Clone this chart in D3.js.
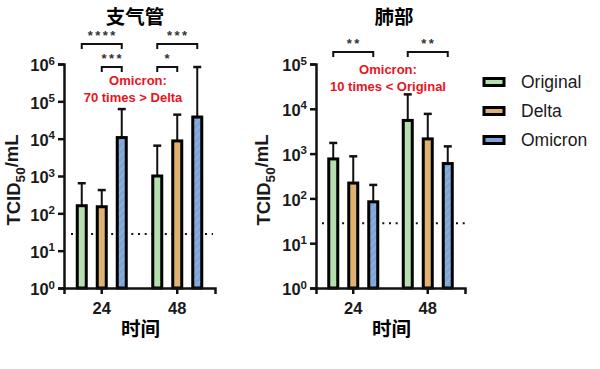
<!DOCTYPE html>
<html>
<head>
  <meta charset="utf-8">
  <script src="https://cdn.jsdelivr.net/npm/d3@7"></script>
  <style>
    body { margin: 0; background: #fff; }
    svg { display: block; font-family: "Liberation Sans", Arial, sans-serif; }
    .cjk { font-family: "Noto Sans CJK SC", sans-serif; font-weight: bold; }
    .axis path, .axis line { stroke: #111; stroke-width: 2.5px; }
    .axis text { font-weight: bold; fill: #1a1a1a; }
  </style>
</head>
<body>
<script>
  // data
  var times = ["24", "48"];
  var series = ["Original", "Delta", "Omicron"];
  var colors = ["#b5dfae", "#dfb273", "#7fa5d7"];

  // rows = time point, columns = series
  var bronchusMean = [[160, 150, 10700], [1000, 8700, 38000]];
  var bronchusUpper = [[640, 420, 62000], [6500, 44000, 830000]];
  var lungMean = [[760, 220, 84], [5500, 2130, 600]];
  var lungUpper = [[1730, 870, 200], [21000, 7700, 1450]];
  var detectionLimit = 28;

  var bronchusTicks = [1, 10, 100, 1e3, 1e4, 1e5, 1e6];
  var lungTicks = [1, 10, 100, 1e3, 1e4, 1e5];

  // [time, from series, to series, stars, level]
  var bronchusSig = [[0, 0, 2, "****", 0], [0, 1, 2, "***", 1], [1, 0, 2, "***", 0], [1, 0, 1, "*", 1]];
  var lungSig = [[0, 0, 2, "**", 0], [1, 0, 2, "**", 0]];

  var bronchusNote = ["Omicron:", "70 times > Delta"];
  var lungNote = ["Omicron:", "10 times < Original"];

  var svg = d3.select("body").append("svg")
    .attr("width", 600).attr("height", 369);

  var defs = svg.append("defs");
  var pat = defs.append("pattern").attr("id", "hatch")
    .attr("patternUnits", "userSpaceOnUse").attr("width", 5).attr("height", 5)
    .attr("patternTransform", "rotate(45)");
  pat.append("rect").attr("width", 5).attr("height", 5).attr("fill", colors[2]);
  pat.append("line").attr("x1", 0).attr("y1", 0).attr("x2", 0).attr("y2", 5)
    .attr("stroke", "#9bbbe4").attr("stroke-width", 1.5);

  var panels = [
    { title: "支气管", titleX: 135, x0: 64, x1: 215, ticks: bronchusTicks,
      mean: bronchusMean, upper: bronchusUpper, sig: bronchusSig,
      sigY: [44, 67], note: bronchusNote, noteX: [138, 133], noteY: [85, 102], labelX: 20, dotX: [71, 213] },
    { title: "肺部", titleX: 394, x0: 316, x1: 465, ticks: lungTicks,
      mean: lungMean, upper: lungUpper, sig: lungSig,
      sigY: [52, 75], note: lungNote, noteX: [388, 388], noteY: [74, 91], labelX: 270, dotX: [322, 465] }
  ];

  var yTop = 64, yBottom = 288;

  panels.forEach(function (p) {
    var g = svg.append("g");

    var x = d3.scaleBand().domain(times).range([p.x0, p.x1]);
    var xs = d3.scaleBand().domain(series).range([-30, 30]);
    var y = d3.scaleLog().domain([1, d3.max(p.ticks)]).range([yBottom, yTop]);

    function cx(t, s) { return x(times[t]) + x.bandwidth() / 2 + xs(series[s]) + xs.bandwidth() / 2; }

    // detection limit
    g.append("line")
      .attr("x1", p.dotX[0]).attr("x2", p.dotX[1])
      .attr("y1", y(detectionLimit)).attr("y2", y(detectionLimit))
      .attr("stroke", "#111").attr("stroke-width", 2)
      .attr("stroke-dasharray", "2,4.7");

    // bars + error bars
    p.mean.forEach(function (row, t) {
      row.forEach(function (v, s) {
        var c = cx(t, s);
        var up = p.upper[t][s];
        g.append("line")
          .attr("x1", c).attr("x2", c).attr("y1", y(v)).attr("y2", y(up))
          .attr("stroke", "#111").attr("stroke-width", 2);
        g.append("line")
          .attr("x1", c - 4).attr("x2", c + 4).attr("y1", y(up)).attr("y2", y(up))
          .attr("stroke", "#111").attr("stroke-width", 2.5);
        g.append("rect")
          .attr("x", c - 4.5).attr("width", 9)
          .attr("y", y(v)).attr("height", yBottom - y(v))
          .attr("fill", s === 2 ? "url(#hatch)" : colors[s])
          .attr("stroke", "#000").attr("stroke-width", 3);
      });
    });

    // y axis
    var ya = g.append("g").attr("class", "axis")
      .attr("transform", "translate(" + p.x0 + ",0)")
      .call(d3.axisLeft(y).tickValues(p.ticks).tickSize(6).tickPadding(3).tickFormat(""));
    ya.selectAll(".tick text").each(function (d) {
      var tx = d3.select(this).attr("font-size", 16.5).attr("dy", "0.42em");
      tx.append("tspan").text("10");
      tx.append("tspan").attr("font-size", 11.5).attr("dy", "-0.6em").text(Math.round(Math.log10(d)));
    });

    // x axis
    var xa = g.append("g").attr("class", "axis")
      .attr("transform", "translate(0," + yBottom + ")")
      .call(d3.axisBottom(x).tickSize(6).tickPadding(8));
    xa.selectAll(".tick text").attr("font-size", 16.5);

    // axis titles
    var lab = g.append("text")
      .attr("transform", "translate(" + p.labelX + "," + ((yTop + yBottom) / 2 + 4) + ") rotate(-90)")
      .attr("text-anchor", "middle").attr("font-weight", "bold").attr("font-size", 18.5)
      .attr("fill", "#1a1a1a");
    lab.append("tspan").text("TCID");
    lab.append("tspan").attr("font-size", 13.5).attr("dy", "0.35em").text("50");
    lab.append("tspan").attr("dy", "-0.35em").text("/mL");

    g.append("text").attr("class", "cjk")
      .attr("x", (p.x0 + p.x1) / 2 + 1).attr("y", 336)
      .attr("text-anchor", "middle").attr("font-size", 19.5).text("时间");

    g.append("text").attr("class", "cjk")
      .attr("x", p.titleX).attr("y", 24)
      .attr("text-anchor", "middle").attr("font-size", 19.5).text(p.title);

    // significance brackets
    p.sig.forEach(function (d) {
      var a = cx(d[0], d[1]), b = cx(d[0], d[2]), by = p.sigY[d[4]];
      g.append("path")
        .attr("d", "M" + a + "," + (by + 5) + "V" + by + "H" + b + "V" + (by + 5))
        .attr("fill", "none").attr("stroke", "#111").attr("stroke-width", 2);
      g.append("text")
        .attr("x", (a + b) / 2 + 1).attr("y", by - 4)
        .attr("text-anchor", "middle").attr("font-size", 13).attr("font-weight", "bold")
        .attr("letter-spacing", 2.5).attr("fill", "#333").text(d[3]);
    });

    // note
    p.note.forEach(function (line, i) {
      g.append("text")
        .attr("x", p.noteX[i]).attr("y", p.noteY[i])
        .attr("text-anchor", "middle").attr("font-size", 13).attr("font-weight", "bold")
        .attr("fill", "#e8141e").text(line);
    });
  });

  // legend
  var leg = svg.append("g").attr("transform", "translate(484,0)");
  series.forEach(function (s, i) {
    var ly = 82 + i * 29;
    leg.append("rect")
      .attr("x", 0).attr("y", ly - 3.5).attr("width", 20).attr("height", 7)
      .attr("fill", colors[i]).attr("stroke", "#000").attr("stroke-width", 3);
    leg.append("text")
      .attr("x", 37).attr("y", ly).attr("dy", "0.36em")
      .attr("font-size", 17.5).attr("fill", "#1a1a1a").text(s);
  });
</script>
</body>
</html>
